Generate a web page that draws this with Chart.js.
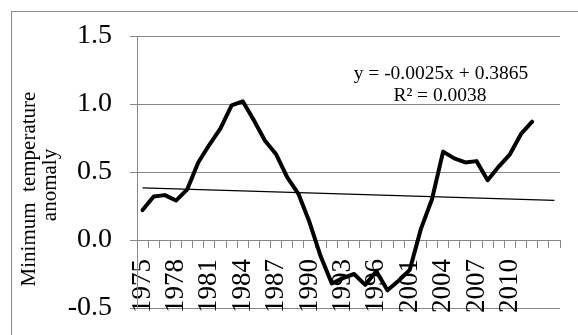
<!DOCTYPE html>
<html>
<head>
<meta charset="utf-8">
<script src="https://cdn.jsdelivr.net/npm/chart.js@4.4.1/dist/chart.umd.min.js"></script>
<style>
  html, body { margin: 0; padding: 0; background: #ffffff; }
  #wrap { width: 578px; height: 335px; position: relative; }
</style>
</head>
<body>
<div id="wrap"><canvas id="c" width="578" height="335"></canvas></div>
<script>
// ---- data ----
const categories = [
  '1975','1976','1977','1978','1979','1980','1981','1982','1983','1984',
  '1985','1986','1987','1988','1989','1990','1991','1992','1993','1994',
  '1995','1996','1998','2000','2001','2002','2003','2004','2005','2006',
  '2007','2008','2009','2010','2011','2012','',''
];
const anomaly = [
  0.22, 0.32, 0.33, 0.29, 0.37, 0.57, 0.70, 0.82, 0.99, 1.02,
  0.88, 0.73, 0.63, 0.46, 0.34, 0.13, -0.12, -0.32, -0.28, -0.25,
  -0.33, -0.23, -0.37, -0.30, -0.22, 0.08, 0.30, 0.65, 0.60, 0.57,
  0.58, 0.44, 0.54, 0.63, 0.78, 0.87
];
// linear trendline end points (y = -0.0025x + 0.3865 at x = 1 and x = 38)
const trendStart = 0.384;
const trendEnd = 0.2915;
const equationText = 'y = -0.0025x + 0.3865';
const r2Text = 'R\u00B2 = 0.0038';
const yTitleLine1 = 'Minimum  temperature';
const yTitleLine2 = 'anomaly';
const yTicks = [-0.5, 0.0, 0.5, 1.0, 1.5];

const trend = categories.map((_, i) => i === 0 ? trendStart : (i === categories.length - 1 ? trendEnd : null));

const SERIF = "'Liberation Serif', 'Times New Roman', serif";
const GRID = '#878787';

const decor = {
  id: 'decor',
  beforeDraw(chart) {
    const ctx = chart.ctx;
    ctx.save();
    ctx.fillStyle = '#ffffff';
    ctx.fillRect(0, 0, chart.width, chart.height);
    ctx.strokeStyle = '#8c8c8c';
    ctx.lineWidth = 1;
    ctx.strokeRect(11.5, 11.5, 700, 500);
    ctx.restore();
  },
  afterDraw(chart) {
    const ctx = chart.ctx;
    // y axis title (two lines, rotated)
    ctx.save();
    ctx.fillStyle = '#000000';
    ctx.font = '21px ' + SERIF;
    ctx.textBaseline = 'middle';
    ctx.textAlign = 'center';
    ctx.translate(29, 189);
    ctx.rotate(-Math.PI / 2);
    ctx.fillText(yTitleLine1, 0, 0);
    ctx.restore();
    ctx.save();
    ctx.fillStyle = '#000000';
    ctx.font = '21px ' + SERIF;
    ctx.textBaseline = 'middle';
    ctx.textAlign = 'center';
    ctx.translate(50, 185);
    ctx.rotate(-Math.PI / 2);
    ctx.fillText(yTitleLine2, 0, 0);
    ctx.restore();
    // trendline equation
    ctx.save();
    ctx.fillStyle = '#000000';
    ctx.font = '19.5px ' + SERIF;
    ctx.textAlign = 'center';
    ctx.textBaseline = 'alphabetic';
    ctx.fillText(equationText, 441, 79);
    ctx.fillText(r2Text, 440, 101);
    ctx.restore();
  }
};

new Chart(document.getElementById('c'), {
  type: 'line',
  data: {
    labels: categories,
    datasets: [
      {
        label: 'Minimum temperature anomaly',
        data: anomaly,
        borderColor: '#000000',
        borderWidth: 4,
        pointRadius: 0,
        tension: 0,
        fill: false,
        borderJoinStyle: 'round',
        borderCapStyle: 'round'
      },
      {
        label: 'Linear trend',
        data: trend,
        borderColor: '#000000',
        borderWidth: 1.3,
        pointRadius: 0,
        tension: 0,
        fill: false,
        spanGaps: true
      }
    ]
  },
  options: {
    responsive: false,
    devicePixelRatio: 1,
    animation: false,
    layout: { padding: { left: 0, top: 36, right: 18, bottom: 27 } },
    plugins: { legend: { display: false }, tooltip: { enabled: false } },
    scales: {
      x: {
        type: 'category',
        position: { y: 0 },
        offset: true,
        afterFit: (s) => { s.paddingLeft = 0; s.paddingRight = 0; s.paddingTop = 0; s.paddingBottom = 0; s.height = 0; },
        grid: { offset: true, drawOnChartArea: false, drawTicks: true, tickLength: 7, color: GRID },
        border: { display: true, color: GRID, width: 1 },
        ticks: {
          autoSkip: false,
          minRotation: 90,
          maxRotation: 90,
          padding: 12,
          color: '#000000',
          font: { family: SERIF, size: 27 },
          callback: (v, i) => (i % 3 === 0 ? categories[i] : '')
        }
      },
      y: {
        min: -0.5,
        max: 1.5,
        afterFit: (s) => { s.width = 137; s.paddingTop = 0; s.paddingBottom = 0; },
        afterBuildTicks: (s) => { s.ticks = yTicks.map(v => ({ value: v })); },
        grid: { color: GRID, drawTicks: true, tickLength: 7 },
        border: { display: true, color: GRID, width: 1 },
        ticks: {
          padding: 18,
          color: '#000000',
          font: { family: SERIF, size: 28 },
          callback: (v) => Number(v).toFixed(1)
        }
      }
    }
  },
  plugins: [decor]
});
</script>
</body>
</html>
